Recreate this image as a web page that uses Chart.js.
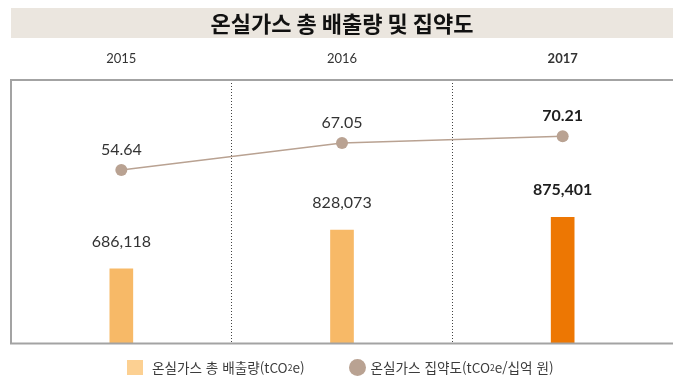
<!DOCTYPE html>
<html lang="ko">
<head>
<meta charset="utf-8">
<title>온실가스 총 배출량 및 집약도</title>
<script src="https://cdn.jsdelivr.net/npm/chart.js@4.4.1/dist/chart.umd.min.js"></script>
<style>
  html, body { margin: 0; padding: 0; background: #fff; }
  #wrap { position: relative; width: 673px; height: 376px; }
  #ghgChart { position: absolute; left: 0; top: 0; }
  .legend {
    position: absolute; left: 127px; top: 358px; height: 18px;
    display: flex; align-items: center; gap: 44px;
    font-family: 'Noto Sans CJK KR', sans-serif; font-size: 13.6px; color: #3c3c3c;
  }
  .legend .item { display: flex; align-items: center; white-space: nowrap; }
  .legend .sq { width: 16px; height: 15px; background: #fcd092; margin-right: 9px; }
  .legend .dot { width: 17px; height: 17px; border-radius: 50%; background: #b9a292; margin-right: 5px; }
  .legend sub { font-size: 8.5px; vertical-align: -1px; }
</style>
</head>
<body>
<div id="wrap">
  <canvas id="ghgChart" width="673" height="376"></canvas>
  <div class="legend">
    <div class="item"><span class="sq"></span>온실가스 총 배출량(tCO<sub>2</sub>e)</div>
    <div class="item"><span class="dot"></span>온실가스 집약도(tCO<sub>2</sub>e/십억 원)</div>
  </div>
</div>
<script>
const TITLE = '온실가스 총 배출량 및 집약도';
const YEARS = ['2015', '2016', '2017'];
const EMISSIONS = [686118, 828073, 875401];      // tCO2e
const INTENSITY = [54.64, 67.05, 70.21];         // tCO2e / 십억 원
const BAR_COLORS = ['#f7b967', '#f7b967', '#ed7703'];

const NUM_FONT = "Lato, 'DejaVu Sans', sans-serif";
const KR_FONT = "'Noto Sans CJK KR', sans-serif";
const LAST = YEARS.length - 1;
const TAN = '#b9a292';

const fmtInt = v => v.toLocaleString('en-US');
const fmtDec = v => v.toFixed(2);

// grey band with the heading, aligned to the plot frame
const headerBand = {
  id: 'headerBand',
  beforeDraw(chart) {
    const { ctx, chartArea: a } = chart;
    ctx.save();
    ctx.fillStyle = '#ebe6df';
    ctx.fillRect(a.left, 8, a.right - a.left, 30);
    ctx.fillStyle = '#111';
    ctx.font = `bold 22px ${KR_FONT}`;
    ctx.textAlign = 'center';
    ctx.textBaseline = 'middle';
    ctx.fillText(TITLE, (a.left + a.right) / 2, 24);
    ctx.restore();
  }
};

// frame on left, top and bottom of the plot
const plotFrame = {
  id: 'plotFrame',
  afterDatasetsDraw(chart) {
    const { ctx, chartArea: a } = chart;
    ctx.save();
    ctx.strokeStyle = '#a3a3a3';
    ctx.lineWidth = 2;
    ctx.beginPath();
    ctx.moveTo(a.right, a.top);
    ctx.lineTo(a.left, a.top);
    ctx.lineTo(a.left, a.bottom);
    ctx.lineTo(a.right, a.bottom);
    ctx.stroke();
    ctx.restore();
  }
};

// value labels above bars and points
const valueLabels = {
  id: 'valueLabels',
  afterDatasetsDraw(chart) {
    const { ctx } = chart;
    ctx.save();
    ctx.textAlign = 'center';
    ctx.textBaseline = 'middle';
    chart.data.datasets.forEach((ds, di) => {
      const meta = chart.getDatasetMeta(di);
      const fmt = di === 0 ? fmtInt : fmtDec;
      const lift = di === 0 ? 27 : 20;
      meta.data.forEach((el, i) => {
        const last = i === LAST;
        ctx.font = `${last ? 'bold ' : ''}16px ${NUM_FONT}`;
        ctx.fillStyle = last ? '#1e1e1e' : '#333';
        ctx.fillText(fmt(ds.data[i]), el.x, el.y - lift);
      });
    });
    ctx.restore();
  }
};

new Chart(document.getElementById('ghgChart'), {
  type: 'bar',
  data: {
    labels: YEARS,
    datasets: [
      {
        label: '온실가스 총 배출량(tCO₂e)',
        data: EMISSIONS,
        backgroundColor: BAR_COLORS,
        barThickness: 23,
        yAxisID: 'y',
        order: 1
      },
      {
        type: 'line',
        label: '온실가스 집약도(tCO₂e/십억 원)',
        data: INTENSITY,
        borderColor: TAN,
        borderWidth: 1.5,
        pointRadius: 6,
        pointBackgroundColor: TAN,
        pointBorderWidth: 0,
        tension: 0,
        yAxisID: 'y1',
        order: 0
      }
    ]
  },
  options: {
    responsive: false,
    animation: false,
    devicePixelRatio: 1,
    layout: { autoPadding: false, padding: { top: 40, left: 11, right: 0, bottom: 32.5 } },
    plugins: {
      legend: { display: false },
      tooltip: { enabled: false }
    },
    scales: {
      x: {
        position: 'top',
        afterFit: s => { s.height = 40; },
        grid: {
          offset: true,
          drawTicks: false,
          lineWidth: 1,
          color: c => (c.type === 'tick' && c.index > 0) ? '#444' : 'transparent'
        },
        border: { display: false, dash: [1, 2] },
        ticks: {
          padding: 13,
          color: '#333',
          font: c => ({ family: NUM_FONT, size: 13, weight: c.index === LAST ? 'bold' : 'normal' })
        }
      },
      y: { display: false, min: 412000, max: 1379000 },
      y1: { display: false, min: -25.6, max: 96.2 }
    }
  },
  plugins: [headerBand, plotFrame, valueLabels]
});
</script>
</body>
</html>
